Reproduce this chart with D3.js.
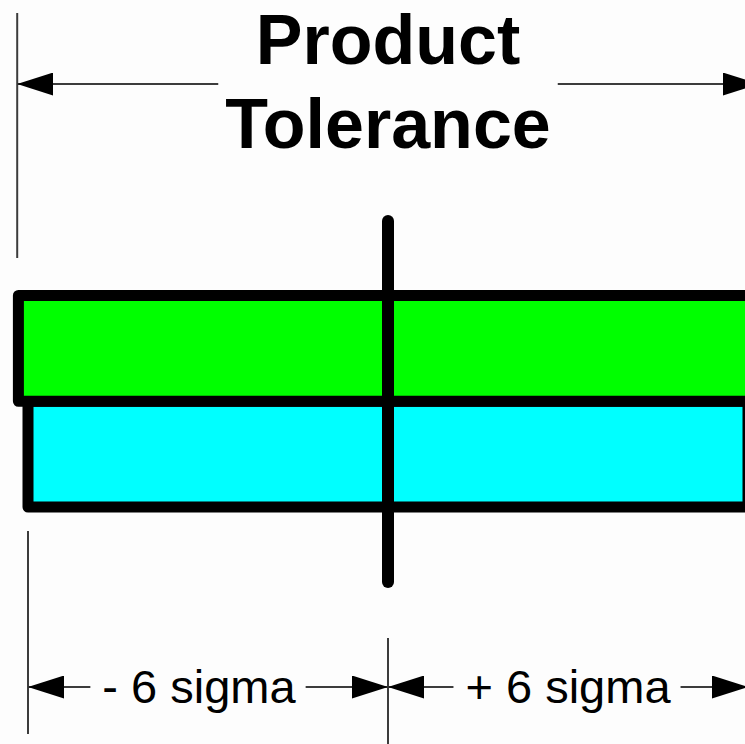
<!DOCTYPE html>
<html>
<head>
<meta charset="utf-8">
<script src="https://cdn.jsdelivr.net/npm/d3@7"></script>
<style>
  html, body { margin: 0; padding: 0; background: #fdfdfd; }
  svg { display: block; }
</style>
</head>
<body>
<script>
// values (in sigma units, 0 = nominal)
const titleLines = ["Product", "Tolerance"];
const toleranceLimits = [-6.18, 6.18];
const bandNames = ["Product", "Process"];
const bandExtents = [[-6.16, 6.3], [-6, 6]];
const bandColors = ["#00ff00", "#00ffff"];
const sigmaLabels = ["- 6 sigma", "+ 6 sigma"];
const sigmaSpans = [[-6, 0], [0, 6]];
const labelCenters = [-3.15, 3];

const width = 745, height = 744;
const lineColor = "#3c3c3c";

const svg = d3.select("body").append("svg")
  .attr("width", width)
  .attr("height", height);

svg.append("rect")
  .attr("width", width).attr("height", height)
  .attr("fill", "#fdfdfd");

// scales
const x = d3.scaleLinear().domain([-6, 6]).range([28, 748]);
const y = d3.scaleBand().domain(bandNames).range([295.5, 507]).padding(0);

// arrow head marker (tip at the line end)
const defs = svg.append("defs");
defs.append("marker")
  .attr("id", "head")
  .attr("markerUnits", "userSpaceOnUse")
  .attr("viewBox", "0 0 36 23")
  .attr("refX", 36).attr("refY", 11.5)
  .attr("markerWidth", 36).attr("markerHeight", 23)
  .attr("orient", "auto")
  .append("path")
  .attr("d", "M0,0 L36,11.5 L0,23 Z")
  .attr("fill", "#000");

// draws an arrow from a to b with a gap for a label
function gapArrow(g, x0, x1, yy, gapL, gapR) {
  g.append("line")
    .attr("x1", gapL).attr("x2", x0).attr("y1", yy).attr("y2", yy)
    .attr("stroke", lineColor).attr("stroke-width", 2)
    .attr("marker-end", "url(#head)");
  g.append("line")
    .attr("x1", gapR).attr("x2", x1).attr("y1", yy).attr("y2", yy)
    .attr("stroke", lineColor).attr("stroke-width", 2)
    .attr("marker-end", "url(#head)");
}

// ---- title + tolerance dimension ----
const topG = svg.append("g");
const titleText = topG.selectAll("text.title")
  .data(titleLines)
  .enter()
  .append("text")
  .attr("class", "title")
  .attr("x", x(0))
  .attr("y", (d, i) => [64, 148][i])
  .attr("text-anchor", "middle")
  .attr("font-family", "'Liberation Sans', Arial, sans-serif")
  .attr("font-weight", "bold")
  .attr("font-size", 70)
  .attr("fill", "#000")
  .text(d => d);

const titleHalf = d3.max(titleText.nodes(), n => n.getComputedTextLength()) / 2 + 7;

topG.append("line")
  .attr("x1", x(toleranceLimits[0])).attr("x2", x(toleranceLimits[0]))
  .attr("y1", 13).attr("y2", 258)
  .attr("stroke", lineColor).attr("stroke-width", 2);

gapArrow(topG, x(toleranceLimits[0]), x(toleranceLimits[1]), 84,
  x(0) - titleHalf, x(0) + titleHalf);

// ---- bands ----
const bands = bandNames.map((name, i) => ({
  name, lo: bandExtents[i][0], hi: bandExtents[i][1], color: bandColors[i]
}));

svg.append("g")
  .selectAll("rect")
  .data(bands.slice().reverse())
  .enter()
  .append("rect")
  .attr("x", d => x(d.lo))
  .attr("y", d => y(d.name))
  .attr("width", d => x(d.hi) - x(d.lo))
  .attr("height", y.bandwidth())
  .attr("fill", d => d.color)
  .attr("stroke", "#000")
  .attr("stroke-width", 11)
  .attr("stroke-linejoin", "round");

// nominal line
svg.append("line")
  .attr("x1", x(0)).attr("x2", x(0))
  .attr("y1", 221).attr("y2", 582)
  .attr("stroke", "#000")
  .attr("stroke-width", 12)
  .attr("stroke-linecap", "round");

// ---- sigma dimensions ----
const bottomG = svg.append("g");

bottomG.append("line")
  .attr("x1", x(-6)).attr("x2", x(-6))
  .attr("y1", 531).attr("y2", 734)
  .attr("stroke", lineColor).attr("stroke-width", 2);

bottomG.append("line")
  .attr("x1", x(0)).attr("x2", x(0))
  .attr("y1", 638).attr("y2", height)
  .attr("stroke", lineColor).attr("stroke-width", 2);

sigmaLabels.forEach((label, i) => {
  const t = bottomG.append("text")
    .attr("x", x(labelCenters[i]))
    .attr("y", 703)
    .attr("text-anchor", "middle")
    .attr("font-family", "'Liberation Sans', Arial, sans-serif")
    .attr("font-size", 47)
    .attr("fill", "#000")
    .text(label);
  const half = t.node().getComputedTextLength() / 2;
  const cx = x(labelCenters[i]);
  gapArrow(bottomG, x(sigmaSpans[i][0]), x(sigmaSpans[i][1]), 687,
    cx - half - 12, cx + half + 10);
});
</script>
</body>
</html>
